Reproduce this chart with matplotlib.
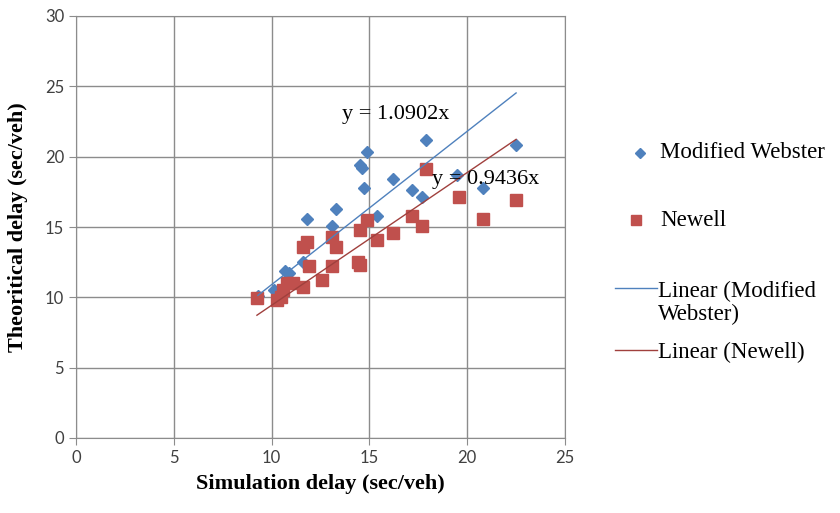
import matplotlib
matplotlib.use("Agg")
import matplotlib.pyplot as plt
from matplotlib.lines import Line2D
import numpy as np

# Modified Webster points
websterX = [9.3, 10.1, 10.7, 10.9, 11.6, 11.8, 13.1, 13.3, 14.7, 14.5, 14.6, 14.9,
            15.4, 16.2, 17.2, 17.7, 17.9, 19.5, 20.8, 22.5]
websterY = [10.1, 10.5, 11.9, 11.7, 12.5, 15.6, 15.1, 16.3, 17.8, 19.4, 19.2, 20.3,
            15.8, 18.4, 17.6, 17.1, 21.2, 18.7, 17.8, 20.8]

# Newell points
newellX = [9.25, 10.3, 10.5, 10.6, 10.8, 11.1, 11.6, 11.6, 11.8, 11.9, 12.6, 13.1, 13.3,
           13.1, 14.4, 14.5, 14.5, 14.9, 15.4, 16.2, 17.2, 17.7, 17.9, 19.6, 20.8, 22.5]
newellY = [9.95, 9.8, 10.0, 10.5, 11.0, 11.0, 10.7, 13.6, 13.9, 12.2, 11.2, 14.3, 13.6,
           12.2, 12.5, 12.3, 14.8, 15.5, 14.1, 14.6, 15.8, 15.1, 19.1, 17.1, 15.6, 16.9]

# trendline slopes (through origin)
websterSlope = 1.0902
newellSlope = 0.9436

xTicks = [0, 5, 10, 15, 20, 25]
yTicks = [0, 5, 10, 15, 20, 25, 30]

blue = "#4F81BD"
red = "#C0504D"
serif = "Liberation Serif"

fig = plt.figure(figsize=(8.4, 5.13), dpi=100)
ax = fig.add_axes([76/840, 1 - 438/513, (565-76)/840, (438-16)/513])

ax.plot(websterX, websterY, linestyle="none", marker="D", markersize=6.5,
        color=blue, zorder=3)
ax.plot(newellX, newellY, linestyle="none", marker="s", markersize=8.5,
        color=red, zorder=3)

xs = np.array([min(websterX), max(websterX)])
ax.plot(xs, websterSlope * xs, color=blue, linewidth=1, zorder=4)
xs = np.array([min(newellX), max(newellX)])
ax.plot(xs, newellSlope * xs, color="#A0403D", linewidth=1, zorder=4)

ax.text(13.6, 23.0, "y = 1.0902x", fontsize=16, family=serif, va="center", ha="left", zorder=5)
ax.text(18.2, 18.35, "y = 0.9436x", fontsize=16, family=serif, va="center", ha="left", zorder=5)

ax.set_xlim(0, 25)
ax.set_ylim(0, 30)
ax.set_xticks(xTicks)
ax.set_yticks(yTicks)
ax.grid(True, color="#8c8c8c", linewidth=1)
ax.set_axisbelow(True)
for s in ax.spines.values():
    s.set_color("#8c8c8c")
ax.tick_params(colors="#8c8c8c", length=5, labelcolor="#404040", labelsize=12)
for lab in ax.get_xticklabels() + ax.get_yticklabels():
    lab.set_family("Lato")

ax.set_xlabel("Simulation delay (sec/veh)", fontsize=16, family=serif,
              fontweight="bold", labelpad=6)
ax.set_ylabel("Theoritical delay (sec/veh)", fontsize=16, family=serif,
              fontweight="bold", labelpad=12)

# legend drawn by hand
def fx(px):
    return px / 840
def fy(py):
    return 1 - py / 513

fig.add_artist(Line2D([fx(640)], [fy(153)], marker="D", markersize=5.5,
                      color=blue, linestyle="none"))
fig.text(fx(660), fy(153), "Modified Webster", fontsize=16.5, family=serif, va="center")
fig.add_artist(Line2D([fx(636)], [fy(220)], marker="s", markersize=7.5,
                      color=red, linestyle="none"))
fig.text(fx(660), fy(220), "Newell", fontsize=16.5, family=serif, va="center")
fig.add_artist(Line2D([fx(615), fx(657)], [fy(288), fy(288)], color=blue, linewidth=1))
fig.text(fx(658), fy(303), "Linear (Modified\nWebster)", fontsize=16.5, family=serif,
         va="center", linespacing=1.1)
fig.add_artist(Line2D([fx(615), fx(657)], [fy(350), fy(350)], color="#A0403D", linewidth=1))
fig.text(fx(658), fy(352), "Linear (Newell)", fontsize=16.5, family=serif, va="center")

fig.savefig("out.png", dpi=100)
